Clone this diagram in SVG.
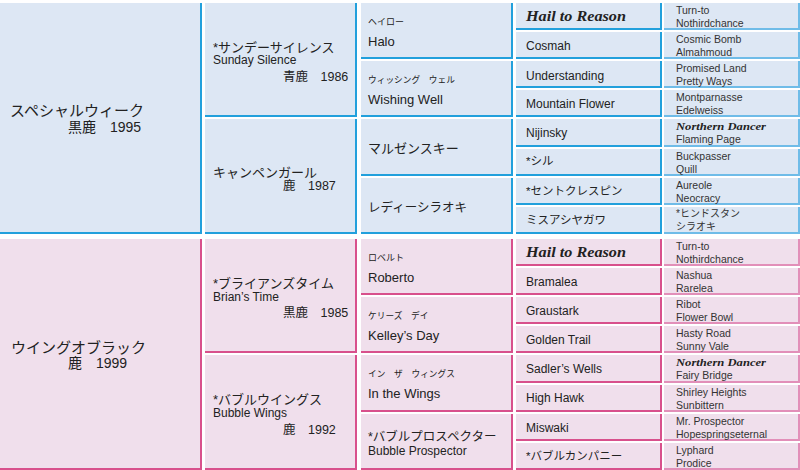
<svg xmlns="http://www.w3.org/2000/svg" width="800" height="470" viewBox="0 0 800 470">
<style>
.cb{fill:#dde7f4}
.cp{fill:#f0dfec}
.lb{fill:none;stroke:#22a0dc;stroke-width:2}
.lp{fill:none;stroke:#d8508c;stroke-width:2}
.lb5{fill:none;stroke:#6fbce8;stroke-width:2}
.lp5{fill:none;stroke:#e28fb9;stroke-width:2}
text{font-family:"Liberation Sans","Noto Sans CJK JP",sans-serif;fill:#222}
.s15{font-size:15px}
.s14{font-size:14px}
.s13{font-size:13px}
.s125{font-size:12.5px}
.s12{font-size:12px}
.s115{font-size:11.5px}
.s105{font-size:10.5px;fill:#333}
.s10{font-size:10px;fill:#333}
.s9{font-size:9px}
.bi{font-family:"Liberation Serif",serif;font-weight:bold;font-style:italic}
</style>
<rect width="800" height="470" fill="#ffffff"/>

<!-- generation 1 -->
<g id="special-week">
<rect class="cb" x="0" y="3" width="202" height="231"/>
<path class="lb" d="M201 3V233H0"/>
<text class="s15" x="10" y="116">スペシャルウィーク</text>
<text class="s14" x="68" y="131.5">黒鹿　1995</text>
</g>
<g id="wing-of-black">
<rect class="cp" x="0" y="239" width="202" height="231"/>
<path class="lp" d="M201 239V469H0"/>
<text class="s15" x="11" y="352.5">ウイングオブラック</text>
<text class="s14" x="68" y="368">鹿　1999</text>
</g>

<!-- generation 2 -->
<g id="sunday-silence">
<rect class="cb" x="205" y="3" width="152" height="114"/>
<path class="lb" d="M356 3V116H205"/>
<text class="s13" x="213" y="51.5">*サンデーサイレンス</text>
<text class="s12" x="213" y="64">Sunday Silence</text>
<text class="s125" x="283" y="81">青鹿　1986</text>
</g>
<g id="campen-girl">
<rect class="cb" x="205" y="119" width="152" height="115"/>
<path class="lb" d="M356 119V233H205"/>
<text class="s13" x="213" y="176.5">キャンペンガール</text>
<text class="s125" x="283" y="190">鹿　1987</text>
</g>
<g id="brians-time">
<rect class="cp" x="205" y="239" width="152" height="114"/>
<path class="lp" d="M356 239V352H205"/>
<text class="s13" x="213" y="288">*ブライアンズタイム</text>
<text class="s12" x="213" y="301">Brian’s Time</text>
<text class="s125" x="283" y="317">黒鹿　1985</text>
</g>
<g id="bubble-wings">
<rect class="cp" x="205" y="355" width="152" height="115"/>
<path class="lp" d="M356 355V469H205"/>
<text class="s13" x="213" y="404">*バブルウイングス</text>
<text class="s12" x="213" y="417">Bubble Wings</text>
<text class="s125" x="283" y="434">鹿　1992</text>
</g>

<!-- generation 3 -->
<g id="halo">
<rect class="cb" x="361" y="3" width="152" height="56"/>
<path class="lb" d="M512 3V58H361"/>
<text class="s9" x="368" y="25">ヘイロー</text>
<text class="s13" x="368" y="45.5">Halo</text>
</g>
<g id="wishing-well">
<rect class="cb" x="361" y="61" width="152" height="56"/>
<path class="lb" d="M512 61V116H361"/>
<text class="s9" x="368" y="83" style="font-size:8.7px">ウィッシング　ウェル</text>
<text class="s13" x="368" y="104">Wishing Well</text>
</g>
<g id="maruzensky">
<rect class="cb" x="361" y="119" width="152" height="57"/>
<path class="lb" d="M512 119V175H361"/>
<text class="s13" x="368" y="153">マルゼンスキー</text>
</g>
<g id="lady-shiraoki">
<rect class="cb" x="361" y="178" width="152" height="56"/>
<path class="lb" d="M512 178V233H361"/>
<text class="s125" x="368" y="211.5">レディーシラオキ</text>
</g>
<g id="roberto">
<rect class="cp" x="361" y="239" width="152" height="56"/>
<path class="lp" d="M512 239V294H361"/>
<text class="s9" x="368" y="260.5">ロベルト</text>
<text class="s13" x="368" y="281.5">Roberto</text>
</g>
<g id="kelleys-day">
<rect class="cp" x="361" y="297" width="152" height="56"/>
<path class="lp" d="M512 297V352H361"/>
<text class="s9" x="368" y="319" style="font-size:8.7px">ケリーズ　デイ</text>
<text class="s13" x="368" y="340">Kelley’s Day</text>
</g>
<g id="in-the-wings">
<rect class="cp" x="361" y="355" width="152" height="57"/>
<path class="lp" d="M512 355V411H361"/>
<text class="s9" x="368" y="377" style="font-size:8.7px">イン　ザ　ウィングス</text>
<text class="s13" x="368" y="398">In the Wings</text>
</g>
<g id="bubble-prospector">
<rect class="cp" x="361" y="414" width="152" height="56"/>
<path class="lp" d="M512 414V469H361"/>
<text class="s125" x="368" y="440.5">*バブルプロスペクター</text>
<text class="s12" x="368" y="455">Bubble Prospector</text>
</g>

<!-- generation 4 -->
<g id="hail-to-reason-1">
<rect class="cb" x="516" y="3" width="146" height="27"/>
<path class="lb" d="M661 3V29H516"/>
<text class="bi" x="526" y="20.7" font-size="14" textLength="100" lengthAdjust="spacingAndGlyphs">Hail to Reason</text>
</g>
<g id="cosmah">
<rect class="cb" x="516" y="32" width="146" height="27"/>
<path class="lb" d="M661 32V58H516"/>
<text class="s12" x="526" y="50">Cosmah</text>
</g>
<g id="understanding">
<rect class="cb" x="516" y="61" width="146" height="27"/>
<path class="lb" d="M661 61V87H516"/>
<text class="s12" x="526" y="80">Understanding</text>
</g>
<g id="mountain-flower">
<rect class="cb" x="516" y="90" width="146" height="27"/>
<path class="lb" d="M661 90V116H516"/>
<text class="s12" x="526" y="108.3">Mountain Flower</text>
</g>
<g id="nijinsky">
<rect class="cb" x="516" y="119" width="146" height="28"/>
<path class="lb" d="M661 119V146H516"/>
<text class="s12" x="526" y="136.7">Nijinsky</text>
</g>
<g id="sil">
<rect class="cb" x="516" y="149" width="146" height="27"/>
<path class="lb" d="M661 149V175H516"/>
<text class="s115" x="526" y="165">*シル</text>
</g>
<g id="saint-crespin">
<rect class="cb" x="516" y="178" width="146" height="27"/>
<path class="lb" d="M661 178V204H516"/>
<text class="s115" x="526" y="195">*セントクレスピン</text>
</g>
<g id="miss-ashiyagawa">
<rect class="cb" x="516" y="207" width="146" height="27"/>
<path class="lb" d="M661 207V233H516"/>
<text class="s115" x="526" y="224">ミスアシヤガワ</text>
</g>
<g id="hail-to-reason-2">
<rect class="cp" x="516" y="239" width="146" height="27"/>
<path class="lp" d="M661 239V265H516"/>
<text class="bi" x="526" y="256.7" font-size="14" textLength="100" lengthAdjust="spacingAndGlyphs">Hail to Reason</text>
</g>
<g id="bramalea">
<rect class="cp" x="516" y="268" width="146" height="27"/>
<path class="lp" d="M661 268V294H516"/>
<text class="s12" x="526" y="286">Bramalea</text>
</g>
<g id="graustark">
<rect class="cp" x="516" y="297" width="146" height="27"/>
<path class="lp" d="M661 297V323H516"/>
<text class="s12" x="526" y="315">Graustark</text>
</g>
<g id="golden-trail">
<rect class="cp" x="516" y="326" width="146" height="27"/>
<path class="lp" d="M661 326V352H516"/>
<text class="s12" x="526" y="344">Golden Trail</text>
</g>
<g id="sadlers-wells">
<rect class="cp" x="516" y="355" width="146" height="28"/>
<path class="lp" d="M661 355V382H516"/>
<text class="s12" x="526" y="373.3">Sadler’s Wells</text>
</g>
<g id="high-hawk">
<rect class="cp" x="516" y="385" width="146" height="27"/>
<path class="lp" d="M661 385V411H516"/>
<text class="s12" x="526" y="402.3">High Hawk</text>
</g>
<g id="miswaki">
<rect class="cp" x="516" y="414" width="146" height="27"/>
<path class="lp" d="M661 414V440H516"/>
<text class="s12" x="526" y="431.7">Miswaki</text>
</g>
<g id="bubble-company">
<rect class="cp" x="516" y="443" width="146" height="27"/>
<path class="lp" d="M661 443V469H516"/>
<text class="s115" x="526" y="460">*バブルカンパニー</text>
</g>

<!-- generation 5 -->
<g id="g5-1">
<rect class="cb" x="664" y="3" width="136" height="27"/>
<path class="lb5" d="M799 3V29H664"/>
<text class="s105" x="676" y="13.5">Turn-to</text>
<text class="s105" x="676" y="26.5">Nothirdchance</text>
</g>
<g id="g5-2">
<rect class="cb" x="664" y="32" width="136" height="27"/>
<path class="lb5" d="M799 32V58H664"/>
<text class="s105" x="676" y="42.5">Cosmic Bomb</text>
<text class="s105" x="676" y="55.5">Almahmoud</text>
</g>
<g id="g5-3">
<rect class="cb" x="664" y="61" width="136" height="27"/>
<path class="lb5" d="M799 61V87H664"/>
<text class="s105" x="676" y="71.5">Promised Land</text>
<text class="s105" x="676" y="84.5">Pretty Ways</text>
</g>
<g id="g5-4">
<rect class="cb" x="664" y="90" width="136" height="27"/>
<path class="lb5" d="M799 90V116H664"/>
<text class="s105" x="676" y="100.5">Montparnasse</text>
<text class="s105" x="676" y="113.5">Edelweiss</text>
</g>
<g id="g5-5">
<rect class="cb" x="664" y="119" width="136" height="28"/>
<path class="lb5" d="M799 119V146H664"/>
<text class="bi" x="676" y="129.5" font-size="11" textLength="90" lengthAdjust="spacingAndGlyphs">Northern Dancer</text>
<text class="s105" x="676" y="142.5">Flaming Page</text>
</g>
<g id="g5-6">
<rect class="cb" x="664" y="149" width="136" height="27"/>
<path class="lb5" d="M799 149V175H664"/>
<text class="s105" x="676" y="159.5">Buckpasser</text>
<text class="s105" x="676" y="172.5">Quill</text>
</g>
<g id="g5-7">
<rect class="cb" x="664" y="178" width="136" height="27"/>
<path class="lb5" d="M799 178V204H664"/>
<text class="s105" x="676" y="188.5">Aureole</text>
<text class="s105" x="676" y="201.5">Neocracy</text>
</g>
<g id="g5-8">
<rect class="cb" x="664" y="207" width="136" height="27"/>
<path class="lb5" d="M799 207V233H664"/>
<text class="s10" x="676" y="217">*ヒンドスタン</text>
<text class="s10" x="676" y="230">シラオキ</text>
</g>
<g id="g5-9">
<rect class="cp" x="664" y="239" width="136" height="27"/>
<path class="lp5" d="M799 239V265H664"/>
<text class="s105" x="676" y="249.5">Turn-to</text>
<text class="s105" x="676" y="262.5">Nothirdchance</text>
</g>
<g id="g5-10">
<rect class="cp" x="664" y="268" width="136" height="27"/>
<path class="lp5" d="M799 268V294H664"/>
<text class="s105" x="676" y="278.5">Nashua</text>
<text class="s105" x="676" y="291.5">Rarelea</text>
</g>
<g id="g5-11">
<rect class="cp" x="664" y="297" width="136" height="27"/>
<path class="lp5" d="M799 297V323H664"/>
<text class="s105" x="676" y="307.5">Ribot</text>
<text class="s105" x="676" y="320.5">Flower Bowl</text>
</g>
<g id="g5-12">
<rect class="cp" x="664" y="326" width="136" height="27"/>
<path class="lp5" d="M799 326V352H664"/>
<text class="s105" x="676" y="336.5">Hasty Road</text>
<text class="s105" x="676" y="349.5">Sunny Vale</text>
</g>
<g id="g5-13">
<rect class="cp" x="664" y="355" width="136" height="28"/>
<path class="lp5" d="M799 355V382H664"/>
<text class="bi" x="676" y="365.5" font-size="11" textLength="90" lengthAdjust="spacingAndGlyphs">Northern Dancer</text>
<text class="s105" x="676" y="378.5">Fairy Bridge</text>
</g>
<g id="g5-14">
<rect class="cp" x="664" y="385" width="136" height="27"/>
<path class="lp5" d="M799 385V411H664"/>
<text class="s105" x="676" y="395.5">Shirley Heights</text>
<text class="s105" x="676" y="408.5">Sunbittern</text>
</g>
<g id="g5-15">
<rect class="cp" x="664" y="414" width="136" height="27"/>
<path class="lp5" d="M799 414V440H664"/>
<text class="s105" x="676" y="424.5">Mr. Prospector</text>
<text class="s105" x="676" y="437.5">Hopespringseternal</text>
</g>
<g id="g5-16">
<rect class="cp" x="664" y="443" width="136" height="27"/>
<path class="lp5" d="M799 443V469H664"/>
<text class="s105" x="676" y="453.5">Lyphard</text>
<text class="s105" x="676" y="466.5">Prodice</text>
</g>
</svg>
